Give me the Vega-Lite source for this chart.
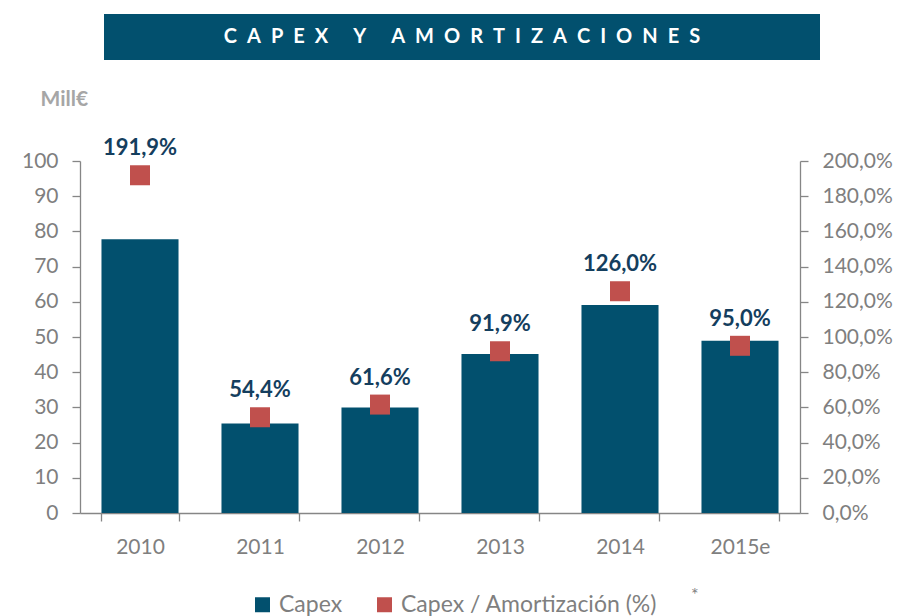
{
  "$schema": "https://vega.github.io/schema/vega-lite/v6.json",
  "background": "white",
  "padding": {"left": 21, "top": 14, "right": 5, "bottom": 0},
  "config": {
    "view": {"stroke": null},
    "font": "Lato",
    "axis": {"grid": false, "domainColor": "#868686", "tickColor": "#868686", "labelColor": "#7f7f7f", "labelFont": "Lato", "labelFontSize": 21, "tickSize": 8, "domainWidth": 1.3, "tickWidth": 1.3}
  },
  "vconcat": [
    {
      "width": 740,
      "height": 46,
      "data": {"values": [{"t": "C\u2002A\u2002P\u2002E\u2002X\u2002\u2003Y\u2002\u2003A\u2002M\u2002O\u2002R\u2002T\u2002I\u2002Z\u2002A\u2002C\u2002I\u2002O\u2002N\u2002E\u2002S"}]},
      "encoding": {
        "x": {"field": "t", "type": "nominal", "scale": {"paddingInner": 0, "paddingOuter": 0.01676, "align": 1}, "axis": null}
      },
      "layer": [
        {
          "mark": {"type": "rect", "color": "#02506e"}
        },
        {
          "mark": {"type": "text", "color": "white", "font": "Lato", "fontSize": 20, "fontWeight": "bold", "align": "center", "baseline": "middle"},
          "encoding": {
            "text": {"field": "t"}
          }
        }
      ]
    },
    {
      "width": 720,
      "height": 352,
      "data": {"values": [
        {"year": "2010", "capex": 77.8, "ratio": 191.9},
        {"year": "2011", "capex": 25.4, "ratio": 54.4},
        {"year": "2012", "capex": 30.0, "ratio": 61.6},
        {"year": "2013", "capex": 45.2, "ratio": 91.9},
        {"year": "2014", "capex": 59.1, "ratio": 126.0},
        {"year": "2015e", "capex": 48.9, "ratio": 95.0}
      ]},
      "encoding": {
        "x": {"field": "year", "type": "nominal", "sort": null,
          "scale": {"paddingInner": 0.358, "paddingOuter": 0.179},
          "axis": {"title": null, "labelAngle": 0, "tickBand": "extent", "labelPadding": 15}
        }
      },
      "layer": [
        {
          "mark": {"type": "bar"},
          "encoding": {
            "y": {"field": "capex", "type": "quantitative",
              "scale": {"domain": [0, 100]},
              "axis": {"orient": "left", "values": [0,10,20,30,40,50,60,70,80,90,100], "labelPadding": 14,
                "title": "Mill€", "titleAngle": 0, "titleX": -40, "titleY": -73, "titleAlign": "left", "titleBaseline": "top",
                "titleFont": "Lato", "titleFontSize": 21, "titleFontWeight": "bold", "titleColor": "#a6a6a6"}
            },
            "color": {"datum": "Capex", "type": "nominal",
              "scale": {"domain": ["Capex", "Capex / Amortización (%)"], "range": ["#02506e", "#c0504d"]},
              "legend": {"orient": "none", "legendX": 171, "legendY": 579, "direction": "horizontal",
                "symbolType": "square", "symbolSize": 225, "symbolStrokeWidth": 0, "labelFontSize": 23, "labelColor": "#7f7f7f", "labelFont": "Lato", "labelLimit": 500,
                "labelOffset": 5, "columnPadding": 30, "padding": 0,
                "title": "*", "titleOrient": "right", "titleFontSize": 18, "titleFontWeight": "normal", "titleColor": "#7f7f7f", "titlePadding": 34, "titleBaseline": "bottom"}
            }
          }
        },
        {
          "layer": [
            {
              "mark": {"type": "square", "size": 400, "opacity": 1},
              "encoding": {
                "y": {"field": "ratio", "type": "quantitative",
                  "scale": {"domain": [0, 200]},
                  "axis": {"orient": "right", "title": null, "values": [0,20,40,60,80,100,120,140,160,180,200], "labelPadding": 14, "labelOverlap": false,
                    "labelExpr": "replace(format(datum.value, '.1f'), '.', ',') + '%'"}
                },
                "color": {"datum": "Capex / Amortización (%)", "type": "nominal"}
              }
            },
            {
              "transform": [{"calculate": "replace(format(datum.ratio, '.1f'), '.', ',') + '%'", "as": "lbl"}],
              "mark": {"type": "text", "font": "Lato", "fontSize": 22, "fontWeight": "bold", "color": "#143e5e", "dy": -20, "baseline": "alphabetic"},
              "encoding": {
                "y": {"field": "ratio", "type": "quantitative", "scale": {"domain": [0, 200]},
                  "axis": {"orient": "right", "title": null, "values": [0,20,40,60,80,100,120,140,160,180,200], "labelPadding": 14, "labelOverlap": false,
                    "labelExpr": "replace(format(datum.value, '.1f'), '.', ',') + '%'"}
                },
                "text": {"field": "lbl"}
              }
            }
          ]
        }
      ],
      "resolve": {"scale": {"y": "independent"}}
    }
  ],
  "spacing": 101,
  "bounds": "flush"
}
